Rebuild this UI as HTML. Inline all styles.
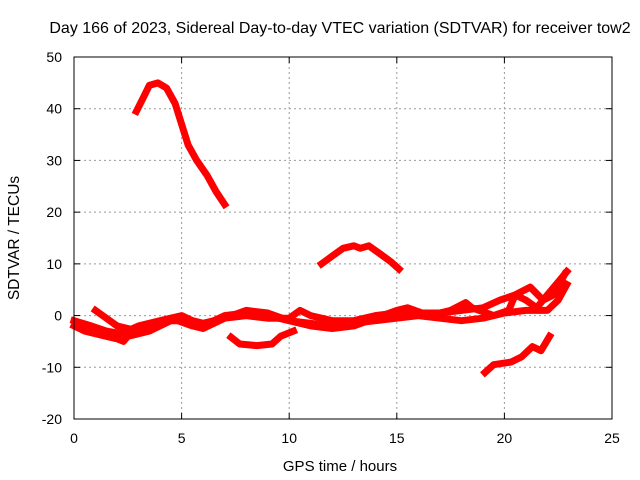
<!DOCTYPE html>
<html><head><meta charset="utf-8"><style>
body{margin:0;background:#fff}
svg{display:block;font-family:"Liberation Sans",sans-serif}
</style></head><body>
<svg id="chart" width="640" height="480" xmlns="http://www.w3.org/2000/svg">
<text x="340" y="33" font-size="16" text-anchor="middle">Day 166 of 2023, Sidereal Day-to-day VTEC variation (SDTVAR) for receiver tow2</text>
<g id="grid"></g><g id="series"></g>
<rect x="74" y="57" width="538" height="362" fill="none" stroke="#000"/>
<text x="340" y="471" font-size="15" text-anchor="middle">GPS time / hours</text>
<text transform="translate(19,238) rotate(-90)" font-size="15.5" text-anchor="middle">SDTVAR / TECUs</text>
</svg>
<script>
const xTicks=[0,5,10,15,20,25];
const yTicks=[-20,-10,0,10,20,30,40,50];
const s1x=[2.9,3.2,3.5,3.9,4.3,4.7,5.0,5.3,5.7,6.2,6.6,7.0];
const s1y=[39.5,42,44.5,45,44,41,37,33,30,27,24,21.5];
const s2x=[11.5,12,12.5,13,13.3,13.7,14.2,14.7,15.1];
const s2y=[10,11.5,13,13.5,13,13.5,12,10.5,9];
const s3x=[7.3,7.7,8.5,9.2,9.6,10.2];
const s3y=[-4.2,-5.5,-5.8,-5.5,-4,-3];
const s4x=[19.1,19.5,20.3,20.8,21.3,21.7,22.1];
const s4y=[-11,-9.5,-9,-8,-6,-6.8,-4];
const s5x=[0,0.5,1,1.5,2,2.3,2.5,3,3.5,4,4.5,5,5.5,6,6.5,7,8,9,10,11,12,13,14,15,16,17,18,19,20,21,22,22.5,22.9];
const s5y=[-2,-3,-3.5,-4,-4.5,-5,-4,-3.5,-3,-2,-1,-1,-1.5,-2,-1,0,0.5,0,-1,-1.5,-2,-1.5,-1,-0.5,0,-0.5,-1,-0.5,0.5,1,1,3,6];
const s6x=[0,0.8,1.5,2.2,3,4,5,5.5,6,7,8,9,10,10.5,11,12,13,14,15,16,17,18,19,19.8,20.5,21.2,21.8,22.3,22.8];
const s6y=[-1,-2,-3,-3.5,-2,-1,0,-1,-1.5,-0.5,0,-0.5,-0.5,1,0,-1,-1,0,0.5,0.5,0.5,1,1.5,3,4,5.5,3,4,8];
const s7x=[1,1.5,2,2.5,3,3.5,4.5,5.5,6,7,8,9,10,11,12,13,14,15,15.5,16.5,17.5,18.2,18.5,19.5,20.2,20.5,21,21.5,22,22.6,22.9];
const s7y=[1,-0.5,-2,-2.5,-3,-2,-0.5,-2,-2.5,-0.5,1,0.5,-1,-2,-2.5,-2,-0.5,1,1.5,0,1,2.5,1.5,0,1,4,3,1.5,4,7,8.5];
const X=h=>74+h*538/25, Y=v=>57+(50-v)*362/70;
const NS="http://www.w3.org/2000/svg";
const g=document.getElementById('grid'), sg=document.getElementById('series');
function mk(t,a,p){const e=document.createElementNS(NS,t);for(const k in a)e.setAttribute(k,a[k]);p.appendChild(e);return e;}
xTicks.forEach(t=>{
 if(t>0&&t<25){const l=mk('line',{x1:X(t),x2:X(t),y1:57,y2:419,stroke:'#999','stroke-dasharray':'2,3'},g);
 
 }
 const tx=mk('text',{x:X(t),y:443,'font-size':14,'text-anchor':'middle'},g);tx.textContent=t;
 
 
 mk('line',{x1:X(t),x2:X(t),y1:419,y2:413,stroke:'#000'},g);mk('line',{x1:X(t),x2:X(t),y1:57,y2:63,stroke:'#000'},g);
});
yTicks.forEach(t=>{
 if(t>-20&&t<50){const l=mk('line',{x1:74,x2:612,y1:Y(t),y2:Y(t),stroke:'#999','stroke-dasharray':'2,3'},g);
 
 }
 const tx=mk('text',{x:62,y:Y(t)+5,'font-size':14,'text-anchor':'end'},g);tx.textContent=t;
 
 
 mk('line',{x1:74,x2:80,y1:Y(t),y2:Y(t),stroke:'#000'},g);mk('line',{x1:612,x2:606,y1:Y(t),y2:Y(t),stroke:'#000'},g);
});
[[s1x,s1y],[s2x,s2y],[s3x,s3y],[s4x,s4y],[s5x,s5y],[s6x,s6y],[s7x,s7y]].forEach((s,i)=>{
 const pts=s[0].map((h,j)=>X(h).toFixed(1)+','+Y(s[1][j]).toFixed(1)).join(' ');
 const p=mk('polyline',{points:pts,fill:'none',stroke:'#f00','stroke-width':7,'stroke-linejoin':'round','stroke-linecap':'square'},sg);
 
 
});
</script>
</body></html>
